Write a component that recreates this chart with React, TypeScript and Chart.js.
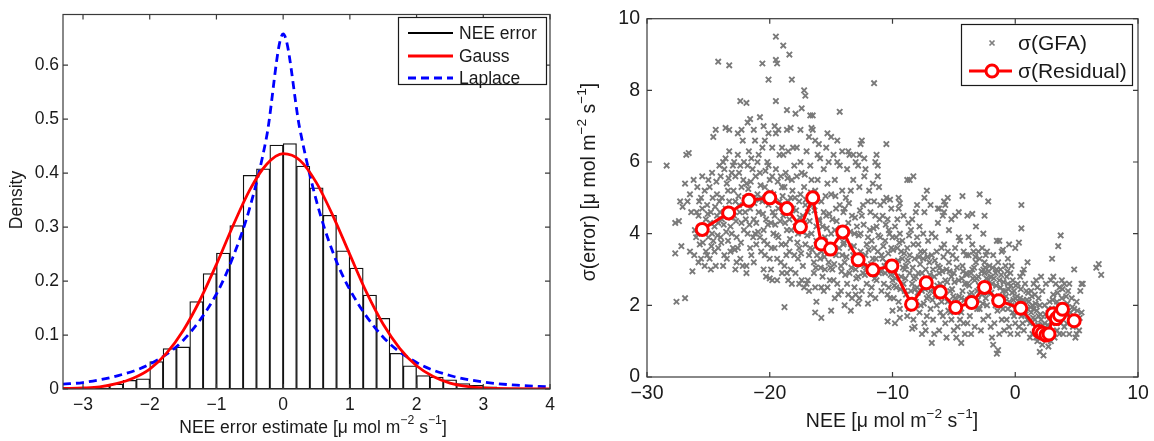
import React, { useEffect, useRef } from "react";
import { Chart, registerables } from "chart.js";

Chart.register(...registerables);

const FONT = '"Liberation Sans", Arial, Helvetica, sans-serif';
const INK = "#1a1a1a";

// ---------------- Left panel: histogram of NEE error ----------------
const histBinCenters = [-2.9, -2.7, -2.5, -2.3, -2.1, -1.9, -1.7, -1.5, -1.3, -1.1, -0.9, -0.7, -0.5, -0.3, -0.1, 0.1, 0.3, 0.5, 0.7, 0.9, 1.1, 1.3, 1.5, 1.7, 1.9, 2.1, 2.3, 2.5, 2.7, 2.9, 3.1];
const histDensity = [0.002, 0.005, 0.009, 0.016, 0.019, 0.051, 0.075, 0.078, 0.162, 0.214, 0.252, 0.303, 0.396, 0.408, 0.452, 0.455, 0.413, 0.373, 0.322, 0.256, 0.224, 0.174, 0.131, 0.066, 0.043, 0.025, 0.022, 0.017, 0.010, 0.007, 0.004];

const gaussX = [-3.3, -3, -2.75, -2.5, -2.25, -2, -1.75, -1.5, -1.25, -1, -0.75, -0.5, -0.25, 0, 0.25, 0.5, 0.75, 1, 1.25, 1.5, 1.75, 2, 2.25, 2.5, 2.75, 3, 3.5, 4];
const gaussY = [0.001, 0.002, 0.004, 0.010, 0.020, 0.037, 0.066, 0.108, 0.164, 0.231, 0.303, 0.369, 0.416, 0.436, 0.424, 0.382, 0.320, 0.249, 0.179, 0.120, 0.075, 0.043, 0.023, 0.011, 0.005, 0.002, 0.0005, 0.0001];

const laplaceX = [-3.3, -3, -2.5, -2, -1.5, -1, -0.75, -0.5, -0.25, 0, 0.25, 0.5, 0.75, 1, 1.5, 2, 2.5, 3, 3.5, 4];
const laplaceY = [0.009, 0.012, 0.024, 0.046, 0.090, 0.176, 0.245, 0.336, 0.466, 0.658, 0.482, 0.348, 0.252, 0.184, 0.096, 0.049, 0.025, 0.013, 0.007, 0.004];

const histXTicks = [-3, -2, -1, 0, 1, 2, 3, 4];
const histYTicks = [0, 0.1, 0.2, 0.3, 0.4, 0.5, 0.6];
const histLegend = ["NEE error", "Gauss", "Laplace"];

// ---------------- Right panel: sigma vs NEE ----------------
const residualNEE = [-25.5, -23.35, -21.7, -20.0, -18.6, -17.5, -16.5, -15.8, -15.05, -14.05, -12.8, -11.6, -10.05, -8.45, -7.25, -6.1, -4.85, -3.55, -2.5, -1.35, 0.45, 1.95, 2.2, 2.5, 2.75, 3.05, 3.35, 3.6, 3.85, 4.8];
const residualSigma = [4.12, 4.58, 4.93, 5.0, 4.7, 4.19, 5.0, 3.71, 3.57, 4.05, 3.27, 2.99, 3.1, 2.03, 2.63, 2.37, 1.94, 2.08, 2.5, 2.13, 1.92, 1.27, 1.22, 1.17, 1.2, 1.76, 1.63, 1.73, 1.89, 1.57];

const gfaPoints: [number, number][] = [
  [-24.2, 8.8], [-23.3, 8.7], [-20.6, 8.75], [-20.1, 8.3], [-19.5, 9.5], [-19.5, 8.85], [-19.4, 8.75], [-18.9, 9.25], [-18.4, 9.0], [-18.2, 8.3], [-17.2, 8.0], [-17.1, 7.85], [-11.5, 8.2],
  [-22.4, 7.7], [-21.9, 7.65], [-19.5, 7.7], [-18.6, 7.45], [-17.9, 7.35], [-17.4, 7.5], [-16.7, 7.3], [-16.5, 7.3], [-14.3, 7.4], [-20.8, 7.25], [-12.5, 6.6], [-12.6, 6.5], [-10.5, 6.5], [-11.3, 6.2],
  [-28.4, 5.9], [-27.7, 4.3], [-27.4, 4.35], [-27.7, 3.45], [-27.6, 2.1], [-27.2, 3.65], [-27.3, 4.9], [-27.1, 4.75],
  [-26.9, 2.2], [-26.8, 6.2], [-26.6, 6.25], [-26.5, 3.5], [-26.3, 2.95], [-26.9, 5.4], [-26.7, 4.9], [-26.5, 5.1], [-26.4, 4.6], [-26.2, 5.5], [-26.1, 4.1], [-26.0, 3.9],
  [-25.9, 5.3], [-25.8, 4.5], [-25.7, 3.7], [-25.6, 3.3], [-25.5, 5.6], [-25.4, 4.2], [-25.3, 3.1], [-25.2, 3.5], [-25.1, 4.8], [-25.0, 3.9], [-25.8, 3.2], [-25.5, 4.7], [-25.3, 5.2], [-25.1, 3.4], [-25.9, 4.0], [-25.6, 5.0], [-25.2, 4.4], [-25.0, 5.5],
  [-24.9, 3.3], [-24.8, 4.6], [-24.7, 5.7], [-24.6, 3.8], [-24.5, 4.2], [-24.4, 3.1], [-24.3, 5.1], [-24.2, 3.6], [-24.1, 4.9], [-24.0, 5.6], [-24.9, 5.3], [-24.7, 4.0], [-24.5, 3.5], [-24.3, 4.5], [-24.1, 5.9], [-24.0, 3.9], [-24.6, 6.7], [-24.4, 6.9], [-24.8, 3.0], [-24.2, 4.3],
  [-23.9, 5.0], [-23.8, 6.0], [-23.7, 3.4], [-23.6, 4.7], [-23.5, 5.4], [-23.4, 3.8], [-23.3, 6.3], [-23.2, 4.2], [-23.1, 5.7], [-23.0, 3.6], [-23.9, 4.4], [-23.7, 5.8], [-23.5, 3.3], [-23.3, 4.9], [-23.1, 4.0], [-23.8, 3.1], [-23.6, 6.1], [-23.4, 5.2], [-23.2, 3.5], [-23.0, 5.9], [-23.3, 6.9], [-23.6, 6.95],
  [-22.9, 4.5], [-22.8, 5.6], [-22.7, 3.9], [-22.6, 6.2], [-22.5, 4.8], [-22.4, 3.3], [-22.3, 5.3], [-22.2, 6.6], [-22.1, 4.1], [-22.0, 5.0], [-22.9, 6.0], [-22.7, 3.2], [-22.5, 5.7], [-22.3, 4.3], [-22.1, 6.0], [-22.8, 4.9], [-22.6, 3.6], [-22.4, 5.9], [-22.2, 3.1], [-22.0, 4.6], [-22.6, 6.8], [-22.3, 6.9], [-22.8, 3.0],
  [-21.9, 5.4], [-21.8, 4.0], [-21.7, 6.3], [-21.6, 4.7], [-21.5, 3.4], [-21.4, 5.8], [-21.3, 4.4], [-21.2, 6.6], [-21.1, 3.7], [-21.0, 5.1], [-21.9, 3.1], [-21.7, 4.9], [-21.5, 6.1], [-21.3, 3.2], [-21.1, 4.3], [-21.8, 5.9], [-21.6, 3.6], [-21.4, 5.0], [-21.2, 4.0], [-21.0, 6.0], [-21.8, 7.1], [-21.6, 7.2], [-21.3, 6.9], [-21.9, 2.9],
  [-20.9, 4.6], [-20.8, 5.7], [-20.7, 3.5], [-20.6, 6.4], [-20.5, 4.1], [-20.4, 5.3], [-20.3, 2.8], [-20.2, 6.0], [-20.1, 4.8], [-20.0, 3.3], [-20.9, 6.2], [-20.7, 5.0], [-20.5, 3.0], [-20.3, 4.4], [-20.1, 5.9], [-20.8, 3.9], [-20.6, 4.9], [-20.4, 6.6], [-20.2, 3.7], [-20.0, 5.5], [-20.5, 7.0], [-20.1, 6.8], [-20.0, 2.75], [-20.4, 3.4],
  [-19.9, 4.3], [-19.8, 6.4], [-19.7, 5.1], [-19.6, 3.6], [-19.5, 5.8], [-19.4, 2.7], [-19.3, 4.7], [-19.2, 6.2], [-19.1, 3.2], [-19.0, 5.3], [-19.9, 3.0], [-19.7, 4.0], [-19.5, 6.8], [-19.3, 3.9], [-19.1, 5.6], [-19.8, 5.6], [-19.6, 4.5], [-19.4, 3.3], [-19.2, 4.9], [-19.0, 6.4], [-19.6, 7.0], [-19.3, 6.9], [-19.0, 2.9], [-19.8, 2.7],
  [-18.9, 4.5], [-18.8, 3.1], [-18.7, 5.7], [-18.6, 4.1], [-18.5, 6.3], [-18.4, 3.5], [-18.3, 5.0], [-18.2, 2.6], [-18.1, 4.7], [-18.0, 5.9], [-18.9, 6.2], [-18.7, 3.7], [-18.5, 4.9], [-18.3, 3.0], [-18.1, 6.4], [-18.8, 5.3], [-18.6, 2.9], [-18.4, 4.4], [-18.2, 5.5], [-18.0, 3.4], [-18.6, 6.9], [-18.3, 6.95], [-18.5, 2.7], [-18.8, 1.95],
  [-17.9, 4.2], [-17.8, 5.6], [-17.7, 3.3], [-17.6, 4.9], [-17.5, 6.0], [-17.4, 2.7], [-17.3, 4.5], [-17.2, 5.3], [-17.1, 3.7], [-17.0, 6.3], [-17.9, 2.9], [-17.7, 4.0], [-17.5, 5.1], [-17.3, 3.1], [-17.1, 4.8], [-17.8, 6.4], [-17.6, 3.6], [-17.4, 5.7], [-17.2, 4.3], [-17.0, 2.6], [-17.5, 6.9], [-17.2, 2.5], [-17.6, 2.6],
  [-16.9, 4.6], [-16.8, 3.4], [-16.7, 5.9], [-16.6, 4.0], [-16.5, 6.9], [-16.4, 2.9], [-16.3, 5.2], [-16.2, 3.8], [-16.1, 6.2], [-16.0, 4.4], [-16.9, 2.7], [-16.7, 3.6], [-16.5, 4.8], [-16.3, 2.5], [-16.1, 5.5], [-16.8, 6.7], [-16.6, 5.5], [-16.4, 3.2], [-16.2, 4.2], [-16.0, 6.5], [-16.6, 6.95], [-16.3, 6.6], [-16.8, 2.4], [-16.3, 1.8], [-16.2, 2.1],
  [-15.9, 3.3], [-15.8, 4.9], [-15.7, 2.8], [-15.6, 5.8], [-15.5, 3.9], [-15.4, 4.5], [-15.3, 2.5], [-15.2, 6.0], [-15.1, 3.6], [-15.0, 5.1], [-15.9, 6.1], [-15.7, 4.2], [-15.5, 3.0], [-15.3, 5.4], [-15.1, 2.7], [-15.8, 3.5], [-15.6, 4.6], [-15.4, 6.4], [-15.2, 3.2], [-15.0, 4.0], [-15.6, 2.4], [-15.3, 6.8], [-15.0, 6.7], [-15.8, 2.5], [-15.8, 1.65], [-15.0, 1.85],
  [-14.9, 4.4], [-14.8, 2.7], [-14.7, 5.5], [-14.6, 3.4], [-14.5, 6.0], [-14.4, 2.3], [-14.3, 4.8], [-14.2, 3.1], [-14.1, 5.2], [-14.0, 3.7], [-14.9, 3.0], [-14.7, 4.1], [-14.5, 2.6], [-14.3, 5.9], [-14.1, 3.4], [-14.8, 6.2], [-14.6, 4.7], [-14.4, 3.9], [-14.2, 2.4], [-14.0, 4.6], [-14.5, 6.6], [-14.1, 6.3], [-14.7, 2.2], [-13.9, 2.0],
  [-13.9, 3.2], [-13.8, 5.0], [-13.7, 2.6], [-13.6, 4.3], [-13.5, 6.2], [-13.4, 3.6], [-13.3, 2.2], [-13.2, 5.5], [-13.1, 4.0], [-13.0, 3.0], [-13.9, 4.7], [-13.7, 5.8], [-13.5, 2.9], [-13.3, 4.5], [-13.1, 2.5], [-13.8, 3.9], [-13.6, 2.3], [-13.4, 5.2], [-13.2, 3.4], [-13.0, 6.0], [-13.6, 6.3], [-13.2, 6.2], [-13.0, 2.3], [-13.4, 1.85],
  [-12.9, 4.2], [-12.8, 2.8], [-12.7, 5.3], [-12.6, 3.5], [-12.5, 2.4], [-12.4, 4.8], [-12.3, 3.1], [-12.2, 5.8], [-12.1, 2.6], [-12.0, 3.9], [-12.9, 3.3], [-12.7, 2.2], [-12.5, 4.5], [-12.3, 5.6], [-12.1, 3.7], [-12.8, 5.9], [-12.6, 4.0], [-12.4, 2.9], [-12.2, 3.4], [-12.0, 4.9], [-12.7, 6.2], [-12.3, 6.1], [-12.8, 2.05], [-12.0, 2.05],
  [-11.9, 3.0], [-11.8, 4.6], [-11.7, 2.5], [-11.6, 5.4], [-11.5, 3.6], [-11.4, 2.2], [-11.3, 4.2], [-11.2, 5.6], [-11.1, 2.9], [-11.0, 3.9], [-11.9, 5.2], [-11.7, 3.8], [-11.5, 4.9], [-11.3, 2.7], [-11.1, 5.3], [-11.8, 2.3], [-11.6, 3.3], [-11.4, 4.5], [-11.2, 3.5], [-11.0, 4.8], [-11.4, 6.0], [-11.2, 5.9],
  [-10.9, 3.4], [-10.8, 4.5], [-10.7, 2.6], [-10.6, 3.8], [-10.5, 5.0], [-10.4, 2.3], [-10.3, 4.1], [-10.2, 3.0], [-10.1, 4.7], [-10.0, 2.7], [-10.9, 2.4], [-10.7, 4.9], [-10.5, 3.2], [-10.3, 2.5], [-10.1, 3.6], [-10.8, 3.3], [-10.6, 2.9], [-10.4, 4.4], [-10.2, 2.2], [-10.0, 3.9], [-10.4, 1.55], [-10.0, 1.85], [-10.2, 4.95],
  [-9.9, 3.1], [-9.8, 4.2], [-9.7, 2.5], [-9.6, 3.6], [-9.5, 2.1], [-9.4, 4.0], [-9.3, 2.8], [-9.2, 3.3], [-9.1, 4.5], [-9.0, 2.4], [-9.9, 2.2], [-9.7, 3.9], [-9.5, 4.7], [-9.3, 3.5], [-9.1, 2.6], [-9.8, 2.9], [-9.6, 4.4], [-9.4, 1.9], [-9.2, 3.8], [-9.0, 3.0], [-9.5, 5.0], [-9.4, 1.65], [-9.4, 4.85], [-9.8, 1.5],
  [-8.9, 2.3], [-8.8, 3.6], [-8.7, 1.9], [-8.6, 2.9], [-8.5, 4.1], [-8.4, 2.6], [-8.3, 1.6], [-8.2, 3.3], [-8.1, 2.1], [-8.0, 3.9], [-8.9, 3.1], [-8.7, 4.3], [-8.5, 2.4], [-8.3, 3.7], [-8.1, 2.8], [-8.8, 1.7], [-8.6, 3.4], [-8.4, 4.4], [-8.2, 1.4], [-8.0, 2.5], [-8.6, 5.5], [-8.1, 4.6], [-8.8, 5.5], [-8.3, 5.6], [-8.0, 4.8], [-8.4, 1.35],
  [-7.9, 2.9], [-7.8, 1.8], [-7.7, 3.5], [-7.6, 2.4], [-7.5, 4.0], [-7.4, 1.5], [-7.3, 3.0], [-7.2, 2.2], [-7.1, 3.8], [-7.0, 2.7], [-7.9, 3.7], [-7.7, 2.0], [-7.5, 3.3], [-7.3, 1.3], [-7.1, 2.6], [-7.8, 4.2], [-7.6, 2.9], [-7.4, 3.5], [-7.2, 1.7], [-7.0, 3.2], [-7.4, 4.6], [-7.2, 5.2], [-7.6, 1.2], [-7.4, 5.0],
  [-6.9, 2.4], [-6.8, 3.4], [-6.7, 1.6], [-6.6, 2.8], [-6.5, 3.9], [-6.4, 2.0], [-6.3, 3.1], [-6.2, 1.3], [-6.1, 2.6], [-6.0, 3.6], [-6.9, 1.9], [-6.7, 3.0], [-6.5, 2.3], [-6.3, 4.3], [-6.1, 1.8], [-6.8, 4.0], [-6.6, 1.2], [-6.4, 3.5], [-6.2, 2.9], [-6.0, 2.1], [-6.8, 0.95], [-6.2, 4.7], [-6.9, 4.8], [-6.3, 4.7],
  [-5.9, 2.5], [-5.8, 3.7], [-5.7, 1.5], [-5.6, 3.0], [-5.5, 2.1], [-5.4, 4.1], [-5.3, 1.8], [-5.2, 2.8], [-5.1, 3.4], [-5.0, 1.3], [-5.9, 1.7], [-5.7, 2.7], [-5.5, 3.5], [-5.3, 2.4], [-5.1, 2.0], [-5.8, 4.6], [-5.6, 1.1], [-5.4, 3.2], [-5.2, 1.6], [-5.0, 2.9], [-5.7, 4.8], [-5.2, 4.4], [-5.8, 4.9], [-5.5, 5.0], [-5.9, 4.5],
  [-4.9, 2.2], [-4.8, 3.3], [-4.7, 1.4], [-4.6, 2.7], [-4.5, 3.8], [-4.4, 1.8], [-4.3, 2.4], [-4.2, 3.5], [-4.1, 1.2], [-4.0, 2.9], [-4.9, 3.6], [-4.7, 2.0], [-4.5, 1.6], [-4.3, 3.1], [-4.1, 2.6], [-4.8, 1.1], [-4.6, 3.9], [-4.4, 2.2], [-4.2, 1.5], [-4.0, 3.4], [-4.3, 5.05], [-4.4, 0.95], [-4.6, 4.6], [-4.9, 4.5],
  [-3.9, 2.6], [-3.8, 3.4], [-3.7, 1.7], [-3.6, 2.9], [-3.5, 3.7], [-3.4, 2.1], [-3.3, 1.4], [-3.2, 3.2], [-3.1, 2.4], [-3.0, 3.5], [-3.9, 1.5], [-3.7, 2.3], [-3.5, 3.0], [-3.3, 2.7], [-3.1, 1.9], [-3.8, 3.9], [-3.6, 1.2], [-3.4, 3.5], [-3.2, 2.2], [-3.0, 2.8], [-3.5, 4.55], [-3.2, 4.2], [-3.9, 4.5],
  [-2.9, 3.3], [-2.8, 2.5], [-2.7, 3.6], [-2.6, 1.6], [-2.5, 2.9], [-2.4, 3.4], [-2.3, 2.0], [-2.2, 2.7], [-2.1, 3.1], [-2.0, 1.4], [-2.9, 1.9], [-2.7, 2.3], [-2.5, 3.2], [-2.3, 3.5], [-2.1, 2.4], [-2.8, 1.3], [-2.6, 3.0], [-2.4, 2.2], [-2.2, 1.7], [-2.0, 2.8], [-2.9, 5.1], [-2.2, 4.9], [-2.6, 4.0], [-2.5, 4.5],
  [-1.9, 2.6], [-1.8, 3.4], [-1.7, 1.5], [-1.6, 2.9], [-1.5, 2.2], [-1.4, 3.2], [-1.3, 1.2], [-1.2, 2.5], [-1.1, 3.5], [-1.0, 1.9], [-1.9, 1.1], [-1.7, 2.2], [-1.5, 3.0], [-1.3, 2.7], [-1.1, 1.6], [-1.8, 0.9], [-1.6, 2.0], [-1.4, 0.75], [-1.2, 3.0], [-1.0, 2.4], [-1.5, 0.65], [-1.3, 3.8], [-1.0, 3.55], [-1.5, 3.8],
  [-0.9, 2.2], [-0.8, 3.1], [-0.7, 1.6], [-0.6, 2.6], [-0.5, 1.4], [-0.4, 2.9], [-0.3, 2.0], [-0.2, 1.8], [-0.1, 2.4], [0.0, 1.5], [-0.9, 1.3], [-0.7, 2.8], [-0.5, 2.1], [-0.3, 3.1], [-0.1, 1.7], [-0.8, 2.4], [-0.6, 1.9], [-0.4, 1.2], [-0.2, 2.7], [0.0, 2.2], [-0.5, 3.7], [0.3, 3.75], [0.0, 3.6], [-0.6, 3.3],
  [0.1, 1.9], [0.2, 2.6], [0.3, 1.4], [0.4, 2.2], [0.5, 1.7], [0.6, 2.9], [0.7, 1.3], [0.8, 2.0], [0.9, 2.4], [1.0, 1.6], [0.2, 1.2], [0.4, 2.8], [0.6, 1.5], [0.8, 2.6], [1.0, 1.9], [0.5, 4.8], [0.5, 4.15], [1.0, 3.2], [0.7, 3.0], [0.3, 2.1],
  [1.1, 2.1], [1.2, 1.5], [1.3, 2.4], [1.4, 1.2], [1.5, 1.9], [1.6, 2.3], [1.7, 1.4], [1.8, 1.0], [1.9, 1.7], [2.0, 2.0], [1.2, 1.1], [1.4, 2.0], [1.6, 1.6], [1.8, 2.5], [2.0, 1.3], [1.3, 1.8], [1.5, 2.6], [1.7, 1.1], [1.9, 2.2], [2.0, 0.7], [1.7, 2.7],
  [2.1, 1.6], [2.2, 0.9], [2.3, 1.3], [2.4, 2.0], [2.5, 1.1], [2.6, 1.7], [2.7, 0.85], [2.8, 1.4], [2.9, 1.0], [3.0, 1.9], [2.2, 2.4], [2.4, 1.5], [2.6, 1.2], [2.8, 2.1], [3.0, 1.5], [2.3, 0.6], [2.5, 2.6], [2.7, 1.9], [2.9, 2.7], [3.0, 3.3], [2.1, 2.8],
  [3.1, 2.3], [3.2, 1.6], [3.3, 2.6], [3.4, 1.3], [3.5, 2.0], [3.6, 2.5], [3.7, 1.5], [3.8, 2.2], [3.9, 1.8], [4.0, 2.6], [3.2, 1.1], [3.4, 2.1], [3.6, 1.2], [3.8, 2.7], [4.0, 1.4], [3.5, 3.65], [3.7, 3.95], [3.3, 1.9], [3.9, 1.2], [3.1, 2.8],
  [4.1, 2.0], [4.2, 1.5], [4.3, 2.4], [4.4, 1.2], [4.5, 1.8], [4.6, 2.2], [4.7, 1.4], [4.8, 1.9], [4.9, 1.1], [5.0, 2.1], [5.1, 1.6], [5.2, 1.3], [5.3, 2.4], [5.4, 1.8], [4.8, 3.0], [5.4, 2.6], [4.4, 2.6], [5.0, 1.2], [5.5, 2.6],
  [6.6, 3.05], [6.8, 3.15], [7.0, 2.85]
];

// dense core of the σ(GFA) cloud (second reading pass)
const gfaCorePoints: [number, number][] = [
  [-26.15, 3.4], [-25.95, 4.6], [-25.75, 4.9], [-25.45, 3.75], [-25.25, 4.05], [-25.05, 4.55], [-24.85, 4.3], [-24.65, 5.0], [-24.45, 4.75], [-24.25, 3.95], [-24.05, 4.6], [-24.75, 3.65], [-24.35, 5.45],
  [-23.95, 3.75], [-23.75, 4.25], [-23.55, 4.05], [-23.35, 5.55], [-23.15, 4.45], [-22.95, 5.2], [-22.75, 4.35], [-22.55, 5.05], [-22.35, 3.75], [-22.15, 5.5], [-23.45, 4.55], [-22.85, 3.55], [-22.45, 4.6],
  [-21.95, 4.4], [-21.75, 5.25], [-21.55, 5.45], [-21.35, 3.9], [-21.15, 5.6], [-20.95, 4.05], [-20.75, 5.35], [-20.55, 4.55], [-20.35, 5.75], [-20.15, 4.25], [-21.65, 4.25], [-21.25, 4.85], [-20.85, 4.95], [-20.45, 3.8],
  [-19.95, 5.15], [-19.75, 4.6], [-19.55, 4.25], [-19.35, 5.45], [-19.15, 4.35], [-18.95, 5.05], [-18.75, 4.3], [-18.55, 5.55], [-18.35, 3.85], [-18.15, 5.2], [-19.85, 3.6], [-19.45, 3.95], [-19.05, 3.7], [-18.65, 3.4], [-18.25, 4.1],
  [-17.95, 5.0], [-17.75, 3.75], [-17.55, 4.45], [-17.35, 4.05], [-17.15, 5.65], [-16.95, 3.95], [-16.75, 4.35], [-16.55, 3.55], [-16.35, 4.65], [-16.15, 3.4], [-17.85, 4.65], [-17.45, 3.45], [-17.05, 4.95], [-16.65, 5.15], [-16.25, 3.05],
  [-15.95, 4.35], [-15.75, 3.85], [-15.55, 3.35], [-15.35, 4.15], [-15.15, 4.55], [-14.95, 3.55], [-14.75, 3.15], [-14.55, 4.35], [-14.35, 3.6], [-14.15, 2.95], [-15.85, 3.05], [-15.45, 5.05], [-15.05, 3.05], [-14.65, 5.05], [-14.25, 4.15],
  [-13.95, 3.75], [-13.75, 3.35], [-13.55, 4.85], [-13.35, 3.05], [-13.15, 3.65], [-12.95, 2.75], [-12.75, 3.95], [-12.55, 3.15], [-12.35, 4.25], [-12.15, 3.05], [-13.85, 2.85], [-13.45, 4.05], [-13.05, 4.45], [-12.65, 4.65], [-12.25, 2.85],
  [-11.95, 3.55], [-11.75, 3.15], [-11.55, 4.15], [-11.35, 3.3], [-11.15, 3.95], [-10.95, 2.95], [-10.75, 3.65], [-10.55, 4.25], [-10.35, 3.45], [-10.15, 2.85], [-11.85, 4.1], [-11.45, 2.75], [-11.05, 4.4], [-10.65, 3.1], [-10.25, 4.0],
  [-9.95, 3.55], [-9.75, 2.75], [-9.55, 3.25], [-9.35, 2.45], [-9.15, 3.05], [-8.95, 2.75], [-8.75, 3.25], [-8.55, 2.15], [-8.35, 3.05], [-8.15, 2.45], [-9.85, 2.55], [-9.45, 3.75], [-9.05, 3.45], [-8.65, 3.95], [-8.25, 2.75],
  [-7.95, 2.35], [-7.75, 3.15], [-7.55, 2.65], [-7.35, 2.45], [-7.15, 3.35], [-6.95, 2.85], [-6.75, 2.15], [-6.55, 3.25], [-6.35, 2.55], [-6.15, 3.05], [-7.85, 3.35], [-7.45, 2.05], [-7.05, 2.25], [-6.65, 2.45], [-6.25, 2.25],
  [-5.95, 2.95], [-5.75, 2.25], [-5.55, 2.65], [-5.35, 2.95], [-5.15, 2.45], [-4.95, 2.65], [-4.75, 3.05], [-4.55, 2.25], [-4.35, 2.75], [-4.15, 2.15], [-5.85, 3.35], [-5.45, 1.85], [-5.05, 2.25], [-4.65, 1.85], [-4.25, 2.95],
  [-3.95, 2.85], [-3.75, 2.55], [-3.55, 2.35], [-3.35, 3.05], [-3.15, 2.75], [-2.95, 2.55], [-2.75, 2.95], [-2.55, 2.45], [-2.35, 2.75], [-2.15, 2.95], [-3.85, 2.15], [-3.45, 2.75], [-3.05, 2.15], [-2.65, 2.05], [-2.25, 2.35], [-3.25, 3.35], [-2.45, 3.05],
  [-1.95, 2.35], [-1.75, 2.75], [-1.55, 2.55], [-1.35, 2.25], [-1.15, 2.85], [-0.95, 2.65], [-0.75, 2.25], [-0.55, 2.45], [-0.35, 2.55], [-0.15, 2.15], [-1.85, 3.05], [-1.45, 1.85], [-1.05, 2.15], [-0.65, 2.95], [-0.25, 2.35],
  [0.05, 2.55], [0.25, 1.85], [0.45, 2.45], [0.65, 2.15], [0.85, 1.75], [1.05, 2.35], [1.25, 1.95], [1.45, 1.65], [1.65, 2.05], [1.85, 1.45], [0.15, 2.25], [0.55, 1.95], [0.95, 2.15], [1.35, 2.25], [1.75, 1.85],
  [2.05, 1.75], [2.25, 1.45], [2.45, 1.75], [2.65, 1.45], [2.85, 1.65], [3.05, 2.15], [3.25, 1.85], [3.45, 2.35], [3.65, 1.95], [3.85, 2.45], [4.05, 1.75], [4.25, 2.05], [4.45, 1.65], [4.65, 1.95], [4.85, 1.55], [5.05, 1.85], [5.25, 1.65], [2.35, 1.15], [2.75, 1.15], [4.15, 2.25]
];

const neeTicks = [-30, -20, -10, 0, 10];
const sigmaTicks = [0, 2, 4, 6, 8, 10];
const scatterLegend = ["σ(GFA)", "σ(Residual)"];

// ---------------- text helpers ----------------
type Part = { t: string; sup?: boolean };

const histXTitle: Part[] = [{ t: "NEE error estimate [μ mol m" }, { t: "−2", sup: true }, { t: " s" }, { t: "−1", sup: true }, { t: "]" }];
const histYTitle: Part[] = [{ t: "Density" }];
const scatXTitle: Part[] = [{ t: "NEE [μ mol m" }, { t: "−2", sup: true }, { t: " s" }, { t: "−1", sup: true }, { t: "]" }];
const scatYTitle: Part[] = [{ t: "σ(error) [μ mol m" }, { t: "−2", sup: true }, { t: " s" }, { t: "−1", sup: true }, { t: "]" }];

function drawRich(ctx: CanvasRenderingContext2D, parts: Part[], cx: number, cy: number, size: number, rotate: boolean) {
  ctx.save();
  ctx.translate(cx, cy);
  if (rotate) ctx.rotate(-Math.PI / 2);
  const sup = size * 0.7;
  let total = 0;
  const widths = parts.map((p) => {
    ctx.font = `${p.sup ? sup : size}px ${FONT}`;
    const w = ctx.measureText(p.t).width;
    total += w;
    return w;
  });
  let x = -total / 2;
  ctx.textAlign = "left";
  ctx.textBaseline = "middle";
  ctx.fillStyle = INK;
  parts.forEach((p, i) => {
    ctx.font = `${p.sup ? sup : size}px ${FONT}`;
    ctx.fillText(p.t, x, p.sup ? -size * 0.42 : 0);
    x += widths[i];
  });
  ctx.restore();
}

function fmt(v: number) {
  return v < 0 ? "−" + Math.abs(v) : String(v);
}

function framePlugin(xTicks: number[], yTicks: number[]) {
  return {
    id: "frame",
    afterDatasetsDraw(chart: any) {
      const { ctx, chartArea: a, scales } = chart;
      ctx.save();
      ctx.strokeStyle = "#3a3a3a";
      ctx.lineWidth = 1.2;
      ctx.strokeRect(a.left, a.top, a.right - a.left, a.bottom - a.top);
      const L = 5;
      ctx.beginPath();
      xTicks.forEach((v) => {
        const px = scales.x.getPixelForValue(v);
        ctx.moveTo(px, a.bottom);
        ctx.lineTo(px, a.bottom - L);
        ctx.moveTo(px, a.top);
        ctx.lineTo(px, a.top + L);
      });
      yTicks.forEach((v) => {
        const py = scales.y.getPixelForValue(v);
        ctx.moveTo(a.left, py);
        ctx.lineTo(a.left + L, py);
        ctx.moveTo(a.right, py);
        ctx.lineTo(a.right - L, py);
      });
      ctx.stroke();
      ctx.restore();
    },
  };
}

function axisScale(min: number, max: number, ticks: number[], fontSize: number, pad: number, size: number, horizontal: boolean) {
  return {
    type: "linear" as const,
    min,
    max,
    offset: false,
    afterBuildTicks: (s: any) => {
      s.ticks = ticks.map((v) => ({ value: v }));
    },
    afterFit: (s: any) => {
      if (horizontal) s.height = size;
      else s.width = size;
    },
    grid: { display: false, drawTicks: false },
    border: { display: false },
    ticks: {
      font: { family: FONT, size: fontSize },
      color: INK,
      padding: pad,
      maxRotation: 0,
      minRotation: 0,
      autoSkip: false,
      callback: (v: any) => fmt(Number(v)),
    },
  };
}

export default function App() {
  const leftRef = useRef<HTMLCanvasElement | null>(null);
  const rightRef = useRef<HTMLCanvasElement | null>(null);

  useEffect(() => {
    const histPlugins = [
      framePlugin(histXTicks, histYTicks),
      {
        id: "decorLeft",
        afterDraw(chart: any) {
          const ctx: CanvasRenderingContext2D = chart.ctx;
          drawRich(ctx, histXTitle, 313, 428, 17.5, false);
          drawRich(ctx, histYTitle, 17, 200, 17.5, true);
          ctx.save();
          ctx.fillStyle = "#ffffff";
          ctx.fillRect(398, 17, 148, 67);
          ctx.strokeStyle = "#1a1a1a";
          ctx.lineWidth = 1.2;
          ctx.strokeRect(398.5, 17.5, 148, 67);
          const rows = [33, 56, 78];
          const colors = ["#000000", "#ff0000", "#0000ff"];
          rows.forEach((y, i) => {
            ctx.beginPath();
            ctx.strokeStyle = colors[i];
            ctx.lineWidth = i === 0 ? 1.8 : 2.8;
            ctx.setLineDash(i === 2 ? [8, 5] : []);
            ctx.moveTo(408, y);
            ctx.lineTo(453, y);
            ctx.stroke();
          });
          ctx.setLineDash([]);
          ctx.fillStyle = INK;
          ctx.font = `17.5px ${FONT}`;
          ctx.textAlign = "left";
          ctx.textBaseline = "middle";
          rows.forEach((y, i) => ctx.fillText(histLegend[i], 459, y + 1));
          ctx.restore();
        },
      },
    ];

    const left = new Chart(leftRef.current as HTMLCanvasElement, {
      type: "bar",
      data: {
        datasets: [
          {
            type: "line",
            label: histLegend[1],
            data: gaussX.map((x, i) => ({ x, y: gaussY[i] })),
            borderColor: "#ff0000",
            borderWidth: 2.8,
            pointRadius: 0,
            cubicInterpolationMode: "monotone",
            fill: false,
          } as any,
          {
            type: "line",
            label: histLegend[2],
            data: laplaceX.map((x, i) => ({ x, y: laplaceY[i] })),
            borderColor: "#0000ff",
            borderWidth: 2.8,
            borderDash: [8, 5],
            pointRadius: 0,
            cubicInterpolationMode: "monotone",
            fill: false,
          } as any,
          {
            type: "bar",
            label: histLegend[0],
            data: histBinCenters.map((x, i) => ({ x, y: histDensity[i] })),
            backgroundColor: "#ffffff",
            borderColor: "#111111",
            borderWidth: 1.3,
            borderSkipped: false,
            barPercentage: 1,
            categoryPercentage: 1,
          } as any,
        ],
      },
      options: {
        animation: false,
        responsive: false,
        events: [],
        layout: { padding: { left: 0, top: 11, right: 25, bottom: 0 } },
        plugins: { legend: { display: false }, tooltip: { enabled: false } },
        scales: {
          x: axisScale(-3.3, 4, histXTicks, 17.5, 6, 52, true),
          y: axisScale(0, 0.694, histYTicks, 17.5, 4, 63, false),
        } as any,
      },
      plugins: histPlugins as any,
    });

    const scatPlugins = [
      framePlugin(neeTicks, sigmaTicks),
      {
        id: "decorRight",
        afterDraw(chart: any) {
          const ctx: CanvasRenderingContext2D = chart.ctx;
          drawRich(ctx, scatXTitle, 317, 422, 19.5, false);
          drawRich(ctx, scatYTitle, 15, 182, 19.5, true);
          ctx.save();
          ctx.fillStyle = "#ffffff";
          ctx.fillRect(386, 24, 171, 61);
          ctx.strokeStyle = "#1a1a1a";
          ctx.lineWidth = 1.2;
          ctx.strokeRect(386.5, 24.5, 171, 61);
          ctx.strokeStyle = "#7f7f7f";
          ctx.lineWidth = 1.7;
          ctx.beginPath();
          ctx.moveTo(414.5, 40.5);
          ctx.lineTo(419.5, 45.5);
          ctx.moveTo(419.5, 40.5);
          ctx.lineTo(414.5, 45.5);
          ctx.stroke();
          ctx.strokeStyle = "#ff0000";
          ctx.lineWidth = 3;
          ctx.beginPath();
          ctx.moveTo(394, 71);
          ctx.lineTo(437, 71);
          ctx.stroke();
          ctx.beginPath();
          ctx.fillStyle = "#ffffff";
          ctx.arc(417, 71, 6, 0, Math.PI * 2);
          ctx.fill();
          ctx.stroke();
          ctx.fillStyle = INK;
          ctx.font = `21px ${FONT}`;
          ctx.textAlign = "left";
          ctx.textBaseline = "middle";
          ctx.fillText(scatterLegend[0], 443, 44);
          ctx.fillText(scatterLegend[1], 443, 72);
          ctx.restore();
        },
      },
    ];

    const gfaAll = gfaPoints.concat(gfaCorePoints);

    const right = new Chart(rightRef.current as HTMLCanvasElement, {
      type: "scatter",
      data: {
        datasets: [
          {
            label: scatterLegend[1],
            data: residualNEE.map((x, i) => ({ x, y: residualSigma[i] })),
            showLine: true,
            borderColor: "#ff0000",
            borderWidth: 3,
            pointStyle: "circle",
            pointRadius: 6,
            pointBorderWidth: 3,
            pointBorderColor: "#ff0000",
            pointBackgroundColor: "#ffffff",
            tension: 0,
          } as any,
          {
            label: scatterLegend[0],
            data: gfaAll.map(([x, y]) => ({ x, y })),
            pointStyle: "crossRot",
            pointRadius: 3.8,
            borderWidth: 1.9,
            borderColor: "#7a7a7a",
            backgroundColor: "#7a7a7a",
            showLine: false,
          } as any,
        ],
      },
      options: {
        animation: false,
        responsive: false,
        events: [],
        layout: { padding: { left: 0, top: 16, right: 16, bottom: 0 } },
        plugins: { legend: { display: false }, tooltip: { enabled: false } },
        scales: {
          x: axisScale(-30, 10, neeTicks, 19.5, 4.5, 64, true),
          y: axisScale(0, 10, sigmaTicks, 19.5, 7, 72, false),
        } as any,
      },
      plugins: scatPlugins as any,
    });

    return () => {
      left.destroy();
      right.destroy();
    };
  }, []);

  return (
    <div style={{ position: "absolute", left: 0, top: 0, width: 1154, height: 441, background: "#ffffff", overflow: "hidden" }}>
      <canvas ref={leftRef} width={575} height={441} style={{ position: "absolute", left: 0, top: 0 }} />
      <canvas ref={rightRef} width={579} height={441} style={{ position: "absolute", left: 575, top: 0 }} />
    </div>
  );
}
